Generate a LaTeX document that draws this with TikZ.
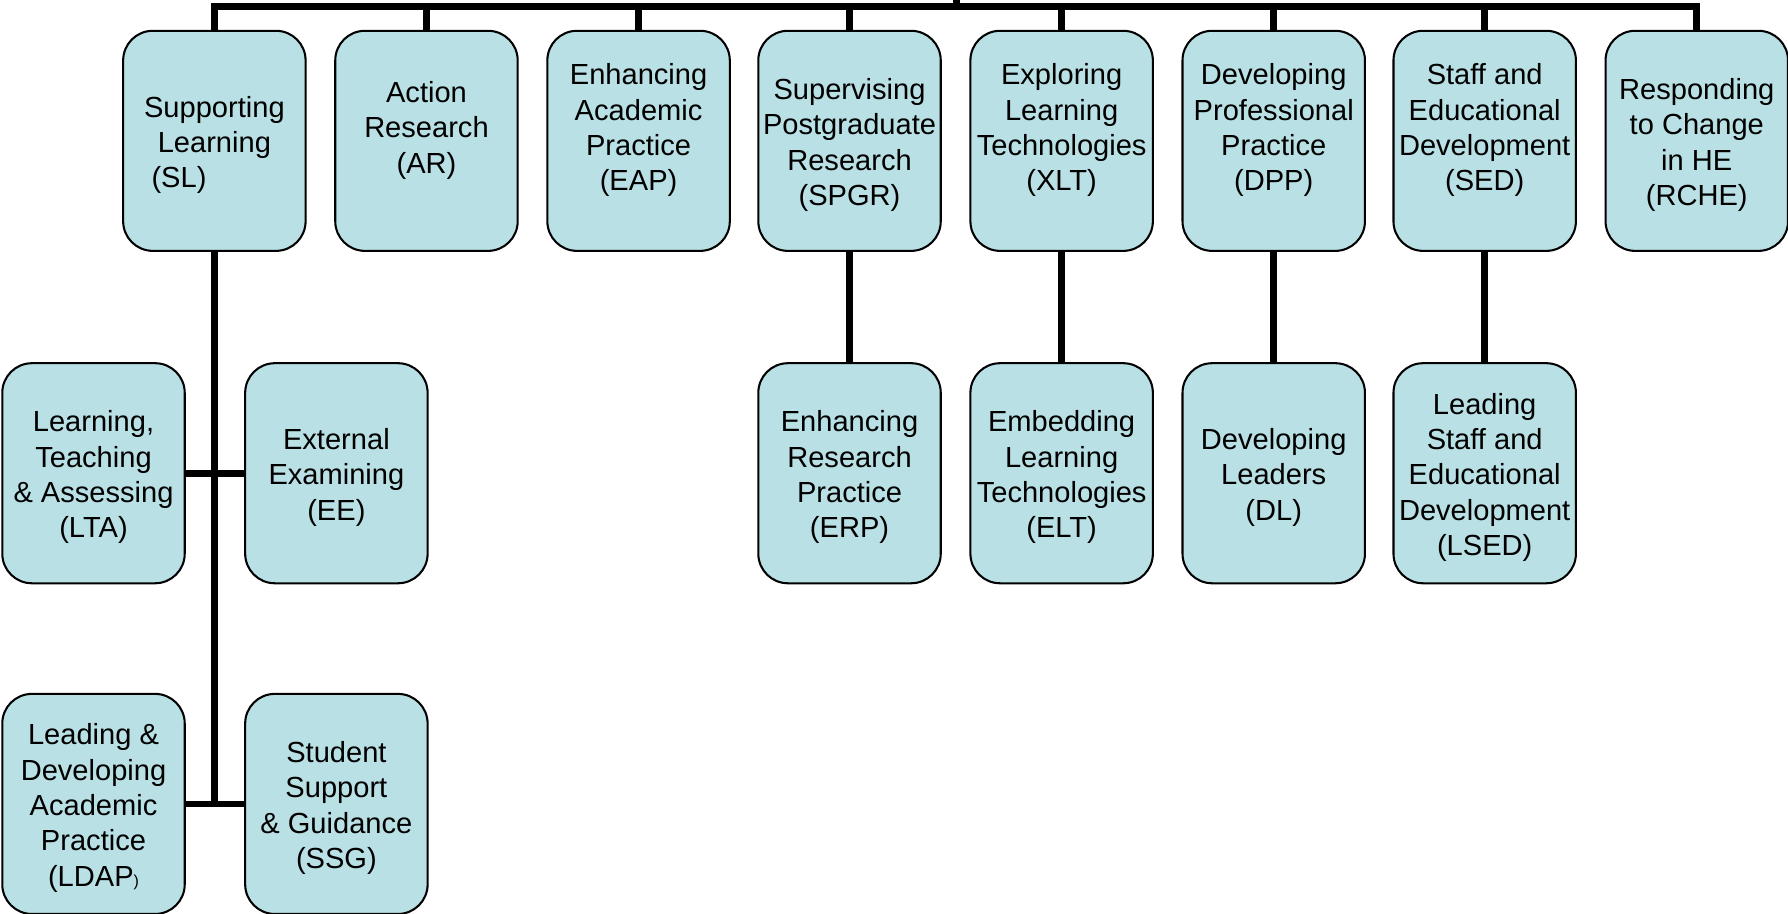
\documentclass[tikz,border=0pt]{standalone}
\usepackage{fontspec}
\setmainfont{Liberation Sans}
\definecolor{boxfill}{RGB}{185,224,228}
\newcommand{\unitnode}[3]{%
  \node[unit] (#1) at (#2) {};
  \node[unittext] (#1-t) at ([yshift=-3.5pt]#1.center) {#3};}
\begin{document}
\begin{tikzpicture}[x=1pt,y=-1pt,
  unit/.style={draw=black,line width=1.8pt,fill=boxfill,rounded corners=26pt,
    minimum width=160pt,minimum height=193pt,inner sep=0pt},
  unittext/.style={inner sep=0pt,align=center,
    font=\fontsize{25.5pt}{31pt}\selectfont},
  link/.style={line width=6pt}]
\useasboundingbox (0,0) rectangle (1568,801.5);
% connectors first (behind boxes)
\coordinate (root) at (839,0);
\coordinate (barL) at (188,5.5);
\coordinate (barR) at (1488,5.5);
\coordinate (barM) at (839,5.5);
\coordinate (spine) at (188,705);
% top row
\unitnode{SL}{188,123.5}{Supporting\\Learning\\(SL)\hspace*{62pt}}
\unitnode{AR}{374,123.5}{Action\\Research\\(AR)\\\mbox{}}
\unitnode{EAP}{560,123.5}{Enhancing\\Academic\\Practice\\(EAP)\\\mbox{}}
\unitnode{SPGR}{745,123.5}{Supervising\\Postgraduate\\Research\\(SPGR)}
\unitnode{XLT}{931,123.5}{Exploring\\Learning\\Technologies\\(XLT)\\\mbox{}}
\unitnode{DPP}{1117,123.5}{Developing\\Professional\\Practice\\(DPP)\\\mbox{}}
\unitnode{SED}{1302,123.5}{Staff and\\Educational\\Development\\(SED)\\\mbox{}}
\unitnode{RCHE}{1488,123.5}{Responding\\to Change\\in HE\\(RCHE)}
% second row
\unitnode{LTA}{82,415}{Learning,\\Teaching\\\& Assessing\\(LTA)}
\unitnode{EE}{295,415}{External\\Examining\\(EE)}
\unitnode{ERP}{745,415}{Enhancing\\Research\\Practice\\(ERP)}
\unitnode{ELT}{931,415}{Embedding\\Learning\\Technologies\\(ELT)}
\unitnode{DL}{1117,415}{Developing\\Leaders\\(DL)}
\unitnode{LSED}{1302,415}{Leading\\Staff and\\Educational\\Development\\(LSED)}
% third row
\unitnode{LDAP}{82,705}{Leading \&\\Developing\\Academic\\Practice\\(LDAP{\fontsize{14pt}{14pt}\selectfont)}}
\unitnode{SSG}{295,705}{Student\\Support\\\& Guidance\\(SSG)}
% connectors
\draw[link] (root) -- (barM);
\draw[link] (SL.north) -- (barL) -- (barR) -- (RCHE.north);
\foreach \n in {AR,EAP,SPGR,XLT,DPP,SED}
  \draw[link] (\n.north) -- (\n.north |- barL);
\foreach \a/\b in {SPGR/ERP,XLT/ELT,DPP/DL,SED/LSED}
  \draw[link] (\a.south) -- (\b.north);
\draw[link] (SL.south) -- (spine);
\draw[link] (LTA.east) -- (EE.west);
\draw[link] (LDAP.east) -- (SSG.west);
\end{tikzpicture}
\end{document}
